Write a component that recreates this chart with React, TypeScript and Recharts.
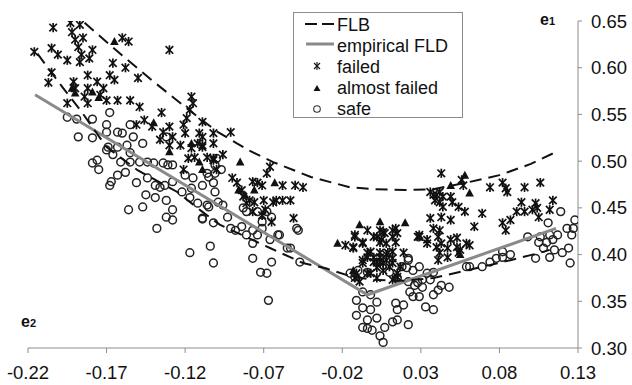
import React from 'react';
import { ScatterChart, Scatter, XAxis, YAxis, Legend, Customized } from 'recharts';

const xTicks = [-0.22, -0.17, -0.12, -0.07, -0.02, 0.03, 0.08, 0.13];
const yTicks = [0.3, 0.35, 0.4, 0.45, 0.5, 0.55, 0.6, 0.65];

const flbUpper = [
  { x: -0.184, y: 0.648 }, { x: -0.16, y: 0.613 }, { x: -0.14, y: 0.585 }, { x: -0.12, y: 0.558 },
  { x: -0.1, y: 0.532 }, { x: -0.08, y: 0.512 }, { x: -0.064, y: 0.499 }, { x: -0.04, y: 0.483 },
  { x: -0.015, y: 0.472 }, { x: 0.0, y: 0.47 }, { x: 0.02, y: 0.469 }, { x: 0.038, y: 0.47 },
  { x: 0.059, y: 0.477 }, { x: 0.08, y: 0.485 }, { x: 0.1, y: 0.497 }, { x: 0.115, y: 0.509 },
];

const flbLower = [
  { x: -0.214, y: 0.615 }, { x: -0.198, y: 0.579 }, { x: -0.186, y: 0.553 }, { x: -0.17, y: 0.515 },
  { x: -0.15, y: 0.49 }, { x: -0.125, y: 0.467 }, { x: -0.11, y: 0.447 }, { x: -0.098, y: 0.432 },
  { x: -0.08, y: 0.418 }, { x: -0.066, y: 0.407 }, { x: -0.045, y: 0.391 }, { x: -0.03, y: 0.385 },
  { x: -0.015, y: 0.377 }, { x: 0.0, y: 0.373 }, { x: 0.02, y: 0.372 }, { x: 0.038, y: 0.375 },
  { x: 0.059, y: 0.383 }, { x: 0.087, y: 0.394 }, { x: 0.106, y: 0.402 }, { x: 0.112, y: 0.405 },
];

const empiricalFld = [
  { x: -0.2155, y: 0.571 }, { x: -0.004, y: 0.357 }, { x: 0.116, y: 0.428 },
];

const failed = [
  [-0.204, 0.643], [-0.193, 0.648], [-0.187, 0.646], [-0.192, 0.638], [-0.19, 0.63], [-0.185, 0.632],
  [-0.188, 0.622], [-0.179, 0.619], [-0.186, 0.614], [-0.181, 0.61], [-0.187, 0.606], [-0.195, 0.608],
  [-0.201, 0.614], [-0.205, 0.621], [-0.216, 0.617], [-0.205, 0.595], [-0.207, 0.584], [-0.191, 0.585],
  [-0.182, 0.592], [-0.176, 0.585], [-0.168, 0.592], [-0.165, 0.587], [-0.172, 0.578], [-0.182, 0.578],
  [-0.19, 0.578], [-0.184, 0.569], [-0.174, 0.571], [-0.17, 0.565], [-0.163, 0.565], [-0.155, 0.565],
  [-0.195, 0.562], [-0.182, 0.562], [-0.166, 0.605], [-0.158, 0.6], [-0.15, 0.589], [-0.16, 0.632],
  [-0.156, 0.628], [-0.13, 0.619], [-0.149, 0.558], [-0.146, 0.544], [-0.151, 0.539], [-0.135, 0.552],
  [-0.13, 0.537], [-0.121, 0.539], [-0.119, 0.546], [-0.116, 0.569], [-0.115, 0.562], [-0.117, 0.555],
  [-0.109, 0.542], [-0.102, 0.519], [-0.136, 0.523], [-0.13, 0.517], [-0.112, 0.519], [-0.141, 0.537],
  [-0.134, 0.531], [-0.128, 0.526], [-0.12, 0.53], [-0.111, 0.53], [-0.102, 0.53], [-0.123, 0.517],
  [-0.116, 0.514], [-0.109, 0.517], [-0.118, 0.503], [-0.114, 0.504], [-0.106, 0.504], [-0.102, 0.501],
  [-0.121, 0.491], [-0.1, 0.491],
  [-0.091, 0.531], [-0.109, 0.515], [-0.102, 0.503], [-0.096, 0.507], [-0.109, 0.526], [-0.068, 0.487],
  [-0.066, 0.494], [-0.09, 0.482], [-0.087, 0.477], [-0.077, 0.478], [-0.074, 0.477], [-0.071, 0.474],
  [-0.064, 0.456], [-0.076, 0.456], [-0.079, 0.458], [-0.083, 0.462], [-0.084, 0.469], [-0.07, 0.458],
  [-0.062, 0.458], [-0.058, 0.458], [-0.053, 0.458], [-0.058, 0.474], [-0.05, 0.474], [-0.045, 0.472],
  [-0.051, 0.439], [-0.065, 0.435], [-0.069, 0.448], [-0.071, 0.442], [-0.077, 0.446], [-0.081, 0.455],
  [-0.004, 0.426], [-0.012, 0.419], [-0.013, 0.408], [-0.007, 0.412], [0.004, 0.426], [0.007, 0.423],
  [0.014, 0.428], [0.012, 0.419], [0.005, 0.416], [0.0, 0.419], [-0.004, 0.397], [-0.002, 0.403],
  [0.004, 0.397], [0.008, 0.4], [0.012, 0.396], [0.006, 0.391], [0.002, 0.392], [0.01, 0.387],
  [0.017, 0.387], [0.019, 0.402], [0.028, 0.419], [-0.018, 0.41], [-0.007, 0.391], [-0.011, 0.38],
  [-0.002, 0.38], [0.015, 0.376],
  [-0.012, 0.421], [0.002, 0.419], [0.006, 0.424], [0.012, 0.426], [0.015, 0.423], [0.029, 0.421],
  [0.034, 0.412], [-0.007, 0.413], [-0.013, 0.407], [0.004, 0.413], [0.008, 0.412], [0.014, 0.413],
  [-0.004, 0.402], [0.0, 0.397], [0.004, 0.402], [0.009, 0.402], [0.012, 0.403], [-0.007, 0.394],
  [0.0, 0.392], [0.004, 0.392], [0.008, 0.394], [0.012, 0.391], [0.002, 0.386], [0.006, 0.383],
  [-0.004, 0.38], [-0.012, 0.375], [-0.009, 0.371], [0.002, 0.375], [0.012, 0.373], [0.015, 0.38],
  [0.043, 0.487], [0.056, 0.48], [0.057, 0.474], [0.074, 0.472], [0.082, 0.477], [0.084, 0.471],
  [0.085, 0.467], [0.096, 0.472], [0.106, 0.477], [0.036, 0.467], [0.038, 0.464], [0.04, 0.464],
  [0.042, 0.467], [0.044, 0.462], [0.039, 0.458], [0.042, 0.456], [0.049, 0.462], [0.05, 0.456],
  [0.054, 0.451], [0.058, 0.446], [0.069, 0.444], [0.044, 0.451], [0.036, 0.439], [0.043, 0.44],
  [0.049, 0.437], [0.038, 0.428], [0.042, 0.426], [0.064, 0.43], [0.082, 0.434], [0.084, 0.426],
  [0.087, 0.437], [0.091, 0.446], [0.094, 0.456], [0.096, 0.446], [0.101, 0.448], [0.103, 0.455],
  [0.104, 0.45], [0.105, 0.44], [0.114, 0.458], [0.112, 0.448], [0.029, 0.419], [0.034, 0.416],
  [0.041, 0.419], [0.043, 0.412], [0.047, 0.407], [0.04, 0.408], [0.042, 0.402], [0.047, 0.397],
  [0.053, 0.418], [0.053, 0.408], [0.055, 0.405], [0.059, 0.412], [0.061, 0.41], [0.054, 0.402],
  [0.041, 0.394], [0.049, 0.416],
].map(([x, y]) => ({ x, y }));

const almostFailed = [
  [-0.165, 0.628], [-0.192, 0.578], [-0.19, 0.573], [-0.179, 0.574], [-0.175, 0.568], [-0.14, 0.541],
  [-0.116, 0.519], [-0.13, 0.51], [-0.111, 0.499], [-0.109, 0.491], [-0.085, 0.499], [-0.076, 0.469],
  [-0.086, 0.469], [-0.063, 0.477], [-0.082, 0.464], [-0.009, 0.432], [0.004, 0.435], [0.02, 0.434],
  [-0.023, 0.412], [-0.013, 0.383], [0.058, 0.485], [0.049, 0.474], [0.061, 0.466], [0.055, 0.4],
].map(([x, y]) => ({ x, y }));

const safe = [
  [-0.195, 0.547], [-0.189, 0.545], [-0.179, 0.545], [-0.168, 0.552], [-0.17, 0.539], [-0.188, 0.526],
  [-0.179, 0.525], [-0.17, 0.531], [-0.163, 0.531], [-0.16, 0.53], [-0.153, 0.526], [-0.155, 0.539],
  [-0.147, 0.519], [-0.169, 0.515], [-0.163, 0.515], [-0.132, 0.526],
  [-0.166, 0.507], [-0.17, 0.512], [-0.161, 0.499], [-0.157, 0.517], [-0.155, 0.509], [-0.155, 0.499],
  [-0.158, 0.488], [-0.163, 0.485], [-0.167, 0.478], [-0.168, 0.474], [-0.179, 0.498], [-0.176, 0.501],
  [-0.175, 0.491], [-0.151, 0.477], [-0.149, 0.499], [-0.144, 0.499], [-0.14, 0.498], [-0.134, 0.498],
  [-0.131, 0.496], [-0.128, 0.496], [-0.144, 0.482], [-0.139, 0.474], [-0.136, 0.472], [-0.133, 0.474],
  [-0.128, 0.478], [-0.122, 0.467], [-0.12, 0.485], [-0.116, 0.471], [-0.115, 0.482], [-0.109, 0.474],
  [-0.105, 0.483], [-0.101, 0.487], [-0.101, 0.467], [-0.117, 0.461], [-0.112, 0.455], [-0.105, 0.451],
  [-0.145, 0.464], [-0.139, 0.461], [-0.132, 0.458], [-0.156, 0.448], [-0.147, 0.451], [-0.132, 0.44],
  [-0.128, 0.437], [-0.128, 0.448], [-0.138, 0.428], [-0.109, 0.438], [-0.102, 0.434], [-0.117, 0.402],
  [-0.104, 0.409], [-0.102, 0.391], [-0.101, 0.496], [-0.1, 0.503],
  [-0.106, 0.487], [-0.097, 0.491], [-0.102, 0.477], [-0.109, 0.439], [-0.106, 0.453], [-0.099, 0.456],
  [-0.096, 0.453], [-0.093, 0.44], [-0.091, 0.428], [-0.088, 0.426], [-0.084, 0.43], [-0.081, 0.421],
  [-0.077, 0.426], [-0.074, 0.421], [-0.071, 0.428], [-0.077, 0.412], [-0.066, 0.416], [-0.061, 0.421],
  [-0.083, 0.45], [-0.081, 0.446], [-0.074, 0.446], [-0.068, 0.446], [-0.065, 0.44], [-0.071, 0.435],
  [-0.048, 0.426], [-0.053, 0.407], [-0.077, 0.396], [-0.065, 0.392], [-0.072, 0.381], [-0.068, 0.38],
  [-0.047, 0.392], [0.022, 0.396], [0.018, 0.387], [0.025, 0.383], [-0.067, 0.351],
  [-0.049, 0.428], [-0.06, 0.421], [-0.055, 0.407], [-0.01, 0.383], [-0.004, 0.381], [0.01, 0.381],
  [0.015, 0.375], [0.022, 0.394], [0.021, 0.386], [0.029, 0.387], [0.022, 0.371], [0.028, 0.37],
  [0.031, 0.373], [0.034, 0.38], [0.023, 0.36], [0.025, 0.355], [0.029, 0.355], [0.031, 0.365],
  [0.033, 0.344], [0.019, 0.346], [0.014, 0.348], [0.015, 0.341], [-0.002, 0.357], [-0.011, 0.351],
  [-0.007, 0.343], [-0.002, 0.341], [-0.011, 0.335], [-0.004, 0.33], [0.002, 0.332], [0.002, 0.349],
  [0.012, 0.328], [-0.007, 0.322], [-0.004, 0.321], [0.015, 0.33], [0.022, 0.325], [-0.015, 0.38],
  [-0.012, 0.376], [-0.007, 0.36], [-0.001, 0.319], [0.004, 0.313], [0.007, 0.322], [0.006, 0.306],
  [0.026, 0.367], [0.036, 0.373], [0.038, 0.357], [0.041, 0.362], [0.043, 0.367], [0.038, 0.341],
  [0.048, 0.365],
  [0.119, 0.446], [0.111, 0.434], [0.128, 0.437], [0.123, 0.428], [0.127, 0.428], [0.126, 0.421],
  [0.117, 0.421], [0.112, 0.421], [0.106, 0.419], [0.098, 0.419], [0.105, 0.413], [0.11, 0.413],
  [0.114, 0.416], [0.108, 0.407], [0.115, 0.405], [0.124, 0.407], [0.12, 0.402], [0.112, 0.397],
  [0.103, 0.396], [0.125, 0.391], [0.082, 0.403], [0.082, 0.397], [0.087, 0.4], [0.074, 0.392],
  [0.069, 0.387], [0.061, 0.387], [0.059, 0.387], [0.038, 0.381], [0.078, 0.396],
].map(([x, y]) => ({ x, y }));

const FONT = '"Liberation Sans", Arial, sans-serif';

const Asterisk = (props: any) => {
  const { cx, cy } = props;
  const r = 3.8;
  return (
    <g stroke="#111" strokeWidth={1.7}>
      <line x1={cx - r} y1={cy - r} x2={cx + r} y2={cy + r} />
      <line x1={cx - r} y1={cy + r} x2={cx + r} y2={cy - r} />
      <line x1={cx} y1={cy - r - 0.8} x2={cx} y2={cy + r + 0.8} />
    </g>
  );
};

const Triangle = (props: any) => {
  const { cx, cy } = props;
  return <polygon points={`${cx},${cy - 4.5} ${cx - 4.3},${cy + 3.5} ${cx + 4.3},${cy + 3.5}`} fill="#111" />;
};

const Ring = (props: any) => {
  const { cx, cy } = props;
  return <circle cx={cx} cy={cy} r={3.9} fill="none" stroke="#222" strokeWidth={1.5} />;
};

const NoShape = () => <g />;

const renderLegend = () => (
  <div
    style={{
      width: 168,
      height: 104,
      border: '1px solid #8c8c8c',
      background: '#fff',
      fontFamily: FONT,
      fontSize: 18,
      color: '#111',
      boxSizing: 'content-box',
      position: 'relative',
    }}
  >
    <svg width={168} height={104} style={{ position: 'absolute', left: 0, top: 0, overflow: 'visible' }}>
      <line x1={11} y1={11} x2={40} y2={11} stroke="#111" strokeWidth={2} strokeDasharray="12 5" />
      <line x1={12} y1={31} x2={40} y2={31} stroke="#8a8a8a" strokeWidth={3} />
      <g stroke="#1a1a1a" strokeWidth={1.2}>
        <line x1={20} y1={50} x2={26} y2={56} />
        <line x1={20} y1={56} x2={26} y2={50} />
        <line x1={23} y1={49} x2={23} y2={57} />
      </g>
      <polygon points="23,72 19.5,78 26.5,78" fill="#111" />
      <circle cx={23} cy={96} r={3.3} fill="none" stroke="#333" strokeWidth={1.1} />
      <text x={43} y={17.5} fontFamily={FONT} fontSize={18} fill="#111">FLB</text>
      <text x={43} y={38.5} fontFamily={FONT} fontSize={18} fill="#111">empirical FLD</text>
      <text x={43} y={59.5} fontFamily={FONT} fontSize={18} fill="#111">failed</text>
      <text x={43} y={81} fontFamily={FONT} fontSize={18} fill="#111">almost failed</text>
      <text x={43} y={101.5} fontFamily={FONT} fontSize={18} fill="#111">safe</text>
    </svg>
  </div>
);

const AxisNames = () => (
  <g fontFamily={FONT} fontWeight="bold" fill="#111">
    <text x={540} y={25} fontSize={16}>
      e<tspan fontSize={11}>1</tspan>
    </text>
    <text x={21} y={327} fontSize={16}>
      e<tspan fontSize={11}>2</tspan>
    </text>
  </g>
);

export default function App() {
  return (
    <div style={{ position: 'absolute', left: 0, top: 0, background: '#fff' }}>
      <ScatterChart width={632} height={385} margin={{ top: 21, right: 0, bottom: 0, left: 28 }}>
        <XAxis
          type="number"
          dataKey="x"
          domain={[-0.22, 0.13]}
          ticks={xTicks}
          allowDataOverflow
          height={37}
          stroke="#8c8c8c"
          tickSize={5}
          tickMargin={13}
          tick={{ fill: '#111', fontSize: 18.5, fontFamily: FONT }}
          tickFormatter={(v: number) => v.toFixed(2)}
          interval={0}
        />
        <YAxis
          type="number"
          dataKey="y"
          orientation="right"
          domain={[0.3, 0.65]}
          ticks={yTicks}
          allowDataOverflow
          width={54}
          stroke="#8c8c8c"
          tickSize={4}
          tickMargin={9}
          tick={{ fill: '#111', fontSize: 18.5, fontFamily: FONT }}
          tickFormatter={(v: number) => v.toFixed(2)}
          interval={0}
        />
        <Scatter name="safe" data={safe} shape={Ring} isAnimationActive={false} />
        <Scatter name="failed" data={failed} shape={Asterisk} isAnimationActive={false} />
        <Scatter name="almost failed" data={almostFailed} shape={Triangle} isAnimationActive={false} />
        <Scatter
          name="empirical FLD"
          data={empiricalFld}
          shape={NoShape}
          line={{ stroke: '#8a8a8a', strokeWidth: 3 }}
          lineType="joint"
          isAnimationActive={false}
        />
        <Scatter
          name="FLB"
          data={flbUpper}
          shape={NoShape}
          line={{ stroke: '#111', strokeWidth: 2, strokeDasharray: '12 7' }}
          lineType="joint"
          isAnimationActive={false}
        />
        <Scatter
          name="FLB lower"
          data={flbLower}
          shape={NoShape}
          line={{ stroke: '#111', strokeWidth: 2, strokeDasharray: '12 7' }}
          lineType="joint"
          isAnimationActive={false}
        />
        <Customized component={AxisNames} />
        <Legend
          layout="vertical"
          align="center"
          verticalAlign="middle"
          content={renderLegend}
          wrapperStyle={{ position: 'absolute', left: 293, top: 12, width: 170, height: 106 }}
        />
      </ScatterChart>
    </div>
  );
}
